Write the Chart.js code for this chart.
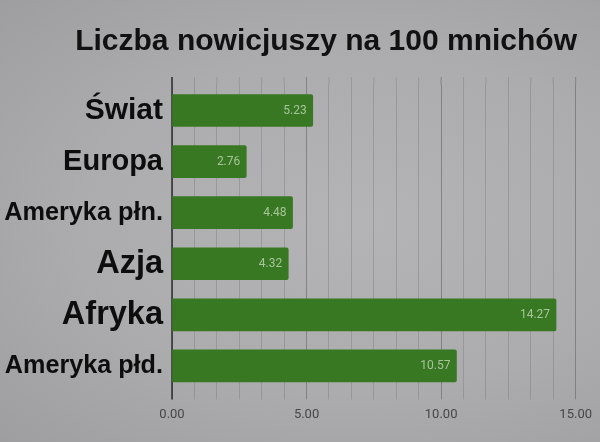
<!DOCTYPE html>
<html>
<head>
<meta charset="utf-8">
<script src="https://cdn.jsdelivr.net/npm/chart.js@4.4.1/dist/chart.umd.min.js"></script>
<style>
  html, body { margin: 0; padding: 0; }
  body {
    width: 600px; height: 442px; overflow: hidden;
    background: radial-gradient(ellipse at 60% 50%, #b4b4b6 0%, #acacae 55%, #9e9ea0 100%);
  }
  #wrap { width: 600px; height: 442px; }
</style>
</head>
<body>
<div id="wrap"><canvas id="novChart"></canvas></div>
<script>
const regions = ['Świat', 'Europa', 'Ameryka płn.', 'Azja', 'Afryka', 'Ameryka płd.'];
const novices = [5.23, 2.76, 4.48, 4.32, 14.27, 10.57];
const labelSizes = [30, 29, 25.3, 32.5, 32.5, 25.2];
const xTicks = [0, 5, 10, 15];

// extends the vertical grid a bit above the plot and draws the zero axis, like the original
const gridExtend = {
    id: 'gridExtend',
    beforeDatasetsDraw(chart) {
        const { ctx, chartArea } = chart;
        const x = chart.scales.x;
        ctx.save();
        x.ticks.forEach((t, i) => {
            const px = x.getPixelForValue(t.value);
            ctx.strokeStyle = i % 6 === 0 ? 'rgba(95,95,95,0.55)' : 'rgba(120,120,120,0.4)';
            ctx.lineWidth = 1;
            ctx.beginPath();
            ctx.moveTo(px, chartArea.top - 8);
            ctx.lineTo(px, chartArea.top);
            ctx.stroke();
        });
        const x0 = x.getPixelForValue(0);
        ctx.strokeStyle = '#2e2e2e';
        ctx.lineWidth = 1.5;
        ctx.beginPath();
        ctx.moveTo(x0, chartArea.top - 8);
        ctx.lineTo(x0, chartArea.bottom + 8);
        ctx.stroke();
        ctx.restore();
    }
};

const barValues = {
    id: 'barValues',
    afterDatasetsDraw(chart) {
        const { ctx } = chart;
        const meta = chart.getDatasetMeta(0);
        ctx.save();
        ctx.font = '12px Roboto, sans-serif';
        ctx.fillStyle = 'rgba(195,215,185,0.8)';
        ctx.textAlign = 'right';
        ctx.textBaseline = 'middle';
        meta.data.forEach((bar, i) => {
            ctx.fillText(novices[i].toFixed(2), bar.x - 6, bar.y);
        });
        ctx.restore();
    }
};

const ctx = document.getElementById('novChart').getContext('2d');
new Chart(ctx, {
    type: 'bar',
    data: {
        labels: regions,
        datasets: [{
            data: novices,
            backgroundColor: '#387823',
            borderRadius: 2,
            borderSkipped: 'start',
            barThickness: 32
        }]
    },
    options: {
        indexAxis: 'y',
        responsive: true,
        maintainAspectRatio: false,
        animation: false,
        layout: { padding: { left: 0, right: 23, top: 0, bottom: 11 } },
        plugins: {
            legend: { display: false },
            tooltip: { enabled: false },
            title: {
                display: true,
                text: 'Liczba nowicjuszy na 100 mnichów',
                align: 'end',
                color: '#111',
                font: { family: 'Liberation Sans, Arial, sans-serif', size: 30, weight: 'bold' },
                padding: { top: 24, bottom: 25 }
            }
        },
        scales: {
            x: {
                min: 0,
                max: 15,
                ticks: {
                    stepSize: 5 / 6,
                    autoSkip: false,
                    maxRotation: 0,
                    padding: 8,
                    color: '#474747',
                    font: { family: 'Roboto, sans-serif', size: 13 },
                    callback: function (value, index) {
                        if (index % 6 !== 0) return '';
                        return xTicks[index / 6].toFixed(2);
                    }
                },
                grid: {
                    drawTicks: true,
                    tickLength: 8,
                    color: ctx => ctx.index % 6 === 0 ? 'rgba(95,95,95,0.55)' : 'rgba(120,120,120,0.4)'
                },
                border: { display: false }
            },
            y: {
                afterFit: scale => { scale.width = 172; },
                ticks: {
                    padding: 9,
                    color: '#0d0d0d',
                    font: ctx => ({
                        family: 'Liberation Sans, Arial, sans-serif',
                        size: labelSizes[ctx.index],
                        weight: 'bold'
                    })
                },
                grid: { display: false, drawTicks: false },
                border: { display: false }
            }
        }
    },
    plugins: [gridExtend, barValues]
});
</script>
</body>
</html>
